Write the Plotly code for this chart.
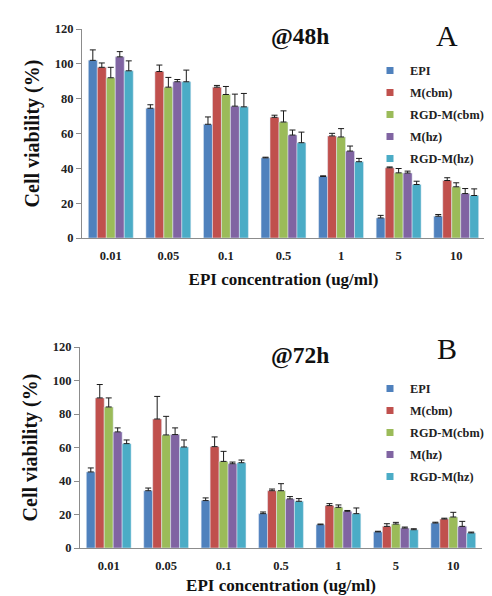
import plotly.graph_objects as go

W, H = 492, 596

categories = ["0.01", "0.05", "0.1", "0.5", "1", "5", "10"]
series_names = ["EPI", "M(cbm)", "RGD-M(cbm)", "M(hz)", "RGD-M(hz)"]
colors = ["#4F81BD", "#C0504D", "#9BBB59", "#8064A2", "#4BACC6"]

# 48 h values (%)
epi_48 = [102, 74.5, 65.3, 46, 35.3, 11.5, 12.5]
mcbm_48 = [98, 95.6, 86.6, 69.3, 58.6, 40.3, 33]
rgdcbm_48 = [92, 86.6, 82.4, 66.6, 58, 37.4, 29.4]
mhz_48 = [104, 89.7, 75.7, 59.1, 49.9, 37.3, 25.5]
rgdhz_48 = [96, 89.7, 75.3, 54.7, 43.8, 30.7, 24.4]

epi_48_err = [6, 2, 4.2, 0.4, 0.4, 1.5, 1]
mcbm_48_err = [2.5, 3.7, 1, 1.2, 1.5, 0.5, 1.6]
rgdcbm_48_err = [6, 5.6, 4.6, 6.4, 4.8, 2.5, 2.3]
mhz_48_err = [3, 1.3, 6.9, 2.9, 2.9, 1.1, 2.9]
rgdhz_48_err = [5.7, 6.7, 7.7, 6.1, 1.9, 1.9, 3.8]

# 72 h values (%)
epi_72 = [45.4, 34.2, 28.3, 20.5, 13.9, 9.6, 14.9]
mcbm_72 = [89.6, 77, 60.5, 34.2, 25.3, 12.9, 17.3]
rgdcbm_72 = [84.2, 67.5, 51.7, 34.2, 24.3, 14.3, 18.5]
mhz_72 = [69.3, 67.7, 50.3, 29.3, 21.9, 11.9, 12.9]
rgdhz_72 = [62.3, 60.3, 50.9, 27.9, 20.5, 10.9, 9]

epi_72_err = [2.4, 1.6, 1.6, 1, 0.4, 0.4, 0.5]
mcbm_72_err = [8, 13.5, 5.8, 1, 1.2, 1.6, 0.5]
rgdcbm_72_err = [5.4, 11.1, 6, 4.2, 1.4, 1, 2.8]
mhz_72_err = [2.4, 4, 1, 1.4, 0.5, 0.6, 3]
rgdhz_72_err = [2.2, 4.2, 1.6, 1.6, 3.4, 0.6, 0.5]

y_ticks = [0, 20, 40, 60, 80, 100, 120]

vals_48 = [epi_48, mcbm_48, rgdcbm_48, mhz_48, rgdhz_48]
errs_48 = [epi_48_err, mcbm_48_err, rgdcbm_48_err, mhz_48_err, rgdhz_48_err]
vals_72 = [epi_72, mcbm_72, rgdcbm_72, mhz_72, rgdhz_72]
errs_72 = [epi_72_err, mcbm_72_err, rgdcbm_72_err, mhz_72_err, rgdhz_72_err]

FONT = "Liberation Serif"


def px(x):
    return x / W


def py(y):
    return 1 - y / H


fig = go.Figure()


def add_panel(vals, errs, xa, ya, leg, tag):
    for i, name in enumerate(series_names):
        fig.add_trace(go.Bar(
            x=categories, y=vals[i], name=name, marker_color=colors[i],
            error_y=dict(type="data", array=errs[i], arrayminus=[0] * len(categories),
                         symmetric=False, color="#1a1a1a", thickness=1, width=3),
            xaxis=xa, yaxis=ya, showlegend=False,
        ))
    # small square legend keys (legend-only entries)
    for i, name in enumerate(series_names):
        fig.add_trace(go.Scatter(
            x=[None], y=[None], mode="markers", name=name,
            marker=dict(symbol="square", size=7, color=colors[i]),
            xaxis=xa, yaxis=ya, legend=leg, legendgroup=tag + str(i),
            showlegend=True, hoverinfo="skip",
        ))


add_panel(vals_48, errs_48, "x", "y", "legend", "a")
add_panel(vals_72, errs_72, "x2", "y2", "legend2", "b")

axis_common = dict(showline=True, linecolor="#8c8c8c", linewidth=1, showgrid=False,
                   zeroline=False, automargin=False)
yaxis_common = dict(axis_common, range=[0, 120], tickvals=y_ticks, ticks="outside",
                    ticklen=5, tickcolor="#8c8c8c",
                    tickfont=dict(family=FONT, size=12.5, color="#222", weight="bold"))
xaxis_common = dict(axis_common, type="category", ticklabelstandoff=6,
                    tickfont=dict(family=FONT, size=12.5, color="#222", weight="bold"))

ytitle_font = dict(family=FONT, size=20, color="#111", weight="bold")
xtitle_font = dict(family=FONT, size=17, color="#111", weight="bold")
legend_font = dict(family=FONT, size=12.3, color="#222", weight="bold")

fig.update_layout(
    width=W, height=H,
    margin=dict(l=0, r=0, t=0, b=0, autoexpand=False),
    paper_bgcolor="white", plot_bgcolor="white",
    barmode="group", bargap=0.22, bargroupgap=0,
    xaxis=dict(xaxis_common, domain=[px(74), px(477)], anchor="y",
               title=dict(text="EPI concentration (ug/ml)", font=xtitle_font, standoff=11)),
    yaxis=dict(yaxis_common, domain=[py(230), py(21)], anchor="x",
               title=dict(text="Cell viability (%)", font=ytitle_font, standoff=9)),
    xaxis2=dict(xaxis_common, domain=[px(72), px(474)], anchor="y2",
                title=dict(text="EPI concentration (ug/ml)", font=xtitle_font, standoff=7)),
    yaxis2=dict(yaxis_common, domain=[py(540), py(339)], anchor="x2",
                title=dict(text="Cell viability (%)", font=ytitle_font, standoff=9)),
    legend=dict(x=px(362), y=py(48), xanchor="left", yanchor="top", font=legend_font,
                bgcolor="rgba(0,0,0,0)", tracegroupgap=3, itemwidth=30),
    legend2=dict(x=px(362), y=py(366), xanchor="left", yanchor="top", font=legend_font,
                 bgcolor="rgba(0,0,0,0)", tracegroupgap=3, itemwidth=30),
    showlegend=True,
)

annots = [
    ("@48h", 292, 28, 23.5, "bold"),
    ("A", 439, 27, 30, "normal"),
    ("@72h", 292, 347, 23.5, "bold"),
    ("B", 439, 340, 30, "normal"),
]
for text, x, y, size, weight in annots:
    fig.add_annotation(text=text, x=px(x), y=py(y), xref="paper", yref="paper",
                       showarrow=False, xanchor="center", yanchor="middle",
                       font=dict(family=FONT, size=size, color="#111", weight=weight))

fig.write_html("out.html")
